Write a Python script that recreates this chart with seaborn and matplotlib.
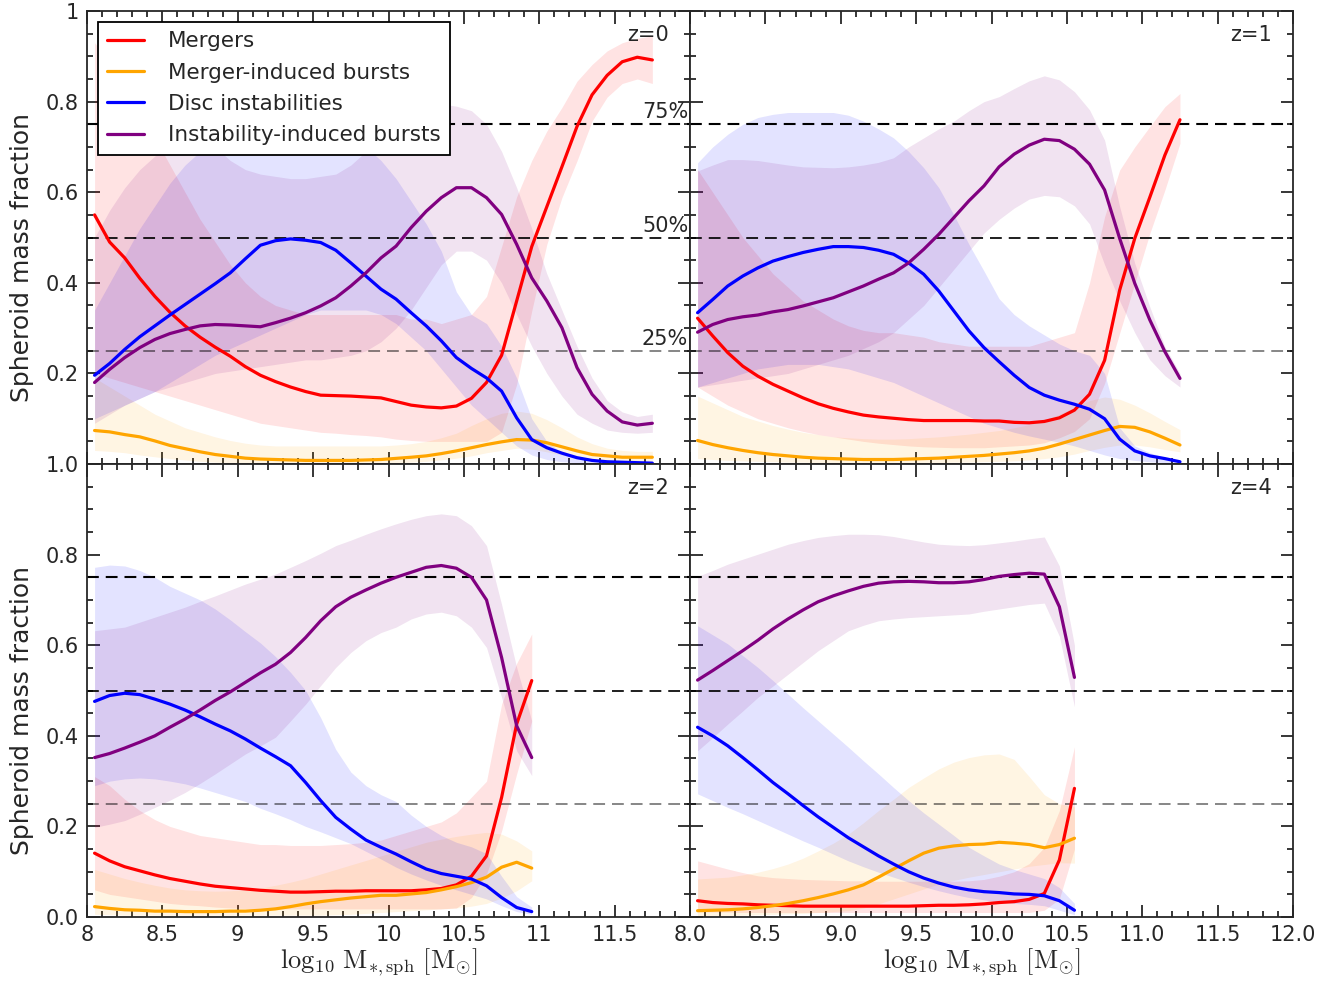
import matplotlib
matplotlib.use('Agg')
import matplotlib.pyplot as plt
import pandas as pd
import seaborn as sns
from matplotlib.ticker import MultipleLocator

# mass bin centres (log10 M*,sph)
MASS_BINS = [8.05, 8.15, 8.25, 8.35, 8.45, 8.55, 8.65, 8.75, 8.85, 8.95,
             9.05, 9.15, 9.25, 9.35, 9.45, 9.55, 9.65, 9.75, 9.85, 9.95,
             10.05, 10.15, 10.25, 10.35, 10.45, 10.55, 10.65, 10.75, 10.85, 10.95,
             11.05, 11.15, 11.25, 11.35, 11.45, 11.55, 11.65, 11.75]

SERIES = ['Mergers', 'Merger-induced bursts', 'Disc instabilities', 'Instability-induced bursts']
COLORS = ['red', 'orange', 'blue', 'purple']
REDSHIFTS = ['z=0', 'z=1', 'z=2', 'z=4']

# ---- z=0 ----
MERGERS_Z0 = [0.55, 0.49, 0.455, 0.41, 0.37, 0.335, 0.305, 0.28, 0.258, 0.238,
              0.215, 0.196, 0.182, 0.17, 0.16, 0.152, 0.151, 0.15, 0.148, 0.146,
              0.138, 0.13, 0.126, 0.124, 0.128, 0.145, 0.18, 0.24, 0.36, 0.48,
              0.568, 0.656, 0.745, 0.815, 0.858, 0.888, 0.898, 0.892]
MERGERS_Z0_HI = [0.93, 0.89, 0.84, 0.78, 0.72, 0.66, 0.60, 0.54, 0.49, 0.44,
                 0.40, 0.37, 0.35, 0.34, 0.33, 0.33, 0.33, 0.33, 0.33, 0.33,
                 0.33, 0.32, 0.32, 0.31, 0.32, 0.33, 0.37, 0.48, 0.59, 0.67,
                 0.735, 0.787, 0.845, 0.882, 0.912, 0.93, 0.94, 0.945]
MERGERS_Z0_LO = [0.2, 0.19, 0.18, 0.17, 0.16, 0.15, 0.14, 0.13, 0.12, 0.11,
                 0.1, 0.09, 0.085, 0.08, 0.075, 0.07, 0.068, 0.065, 0.063, 0.06,
                 0.055, 0.052, 0.05, 0.05, 0.05, 0.05, 0.05, 0.07, 0.176, 0.338,
                 0.485, 0.588, 0.669, 0.757, 0.81, 0.84, 0.85, 0.84]
MBURSTS_Z0 = [0.074, 0.071, 0.065, 0.06, 0.051, 0.041, 0.034, 0.027, 0.021, 0.017,
              0.013, 0.011, 0.01, 0.009, 0.008, 0.008, 0.008, 0.008, 0.009, 0.01,
              0.0125, 0.015, 0.018, 0.023, 0.029, 0.036, 0.043, 0.049, 0.054, 0.053,
              0.047, 0.038, 0.029, 0.021, 0.018, 0.015, 0.015, 0.015]
MBURSTS_Z0_HI = [0.19, 0.17, 0.15, 0.13, 0.11, 0.095, 0.08, 0.07, 0.06, 0.052,
                 0.046, 0.042, 0.04, 0.04, 0.04, 0.04, 0.04, 0.04, 0.04, 0.04,
                 0.042, 0.045, 0.05, 0.058, 0.068, 0.085, 0.1, 0.112, 0.117, 0.112,
                 0.098, 0.08, 0.06, 0.045, 0.035, 0.03, 0.028, 0.028]
MBURSTS_Z0_LO = [0.03, 0.028, 0.025, 0.02, 0.016, 0.012, 0.009, 0.006, 0.004, 0.003,
                 0.002, 0.002, 0.002, 0.002, 0.002, 0.002, 0.002, 0.002, 0.002, 0.002,
                 0.003, 0.004, 0.006, 0.009, 0.013, 0.018, 0.025, 0.03, 0.035, 0.033,
                 0.027, 0.02, 0.013, 0.009, 0.007, 0.006, 0.006, 0.006]
DISC_Z0 = [0.196, 0.222, 0.253, 0.281, 0.305, 0.329, 0.352, 0.375, 0.398, 0.422,
           0.453, 0.483, 0.493, 0.497, 0.494, 0.489, 0.472, 0.444, 0.415, 0.386,
           0.364, 0.334, 0.305, 0.272, 0.235, 0.211, 0.19, 0.161, 0.102, 0.054,
           0.036, 0.024, 0.014, 0.008, 0.005, 0.004, 0.003, 0.002]
DISC_Z0_HI = [0.34, 0.40, 0.46, 0.52, 0.57, 0.62, 0.66, 0.69, 0.71, 0.72,
              0.73, 0.73, 0.73, 0.73, 0.73, 0.73, 0.72, 0.71, 0.70, 0.67,
              0.63, 0.58, 0.53, 0.47, 0.38, 0.33, 0.31, 0.26, 0.19, 0.10,
              0.05, 0.025, 0.015, 0.01, 0.008, 0.006, 0.005, 0.004]
DISC_Z0_LO = [0.10, 0.115, 0.13, 0.145, 0.16, 0.18, 0.2, 0.22, 0.24, 0.255,
              0.27, 0.285, 0.3, 0.315, 0.33, 0.34, 0.34, 0.34, 0.34, 0.33,
              0.31, 0.28, 0.25, 0.21, 0.17, 0.13, 0.10, 0.07, 0.04, 0.02,
              0.01, 0.005, 0.003, 0.002, 0.001, 0.001, 0.001, 0.001]
IBURSTS_Z0 = [0.18, 0.209, 0.235, 0.257, 0.275, 0.288, 0.297, 0.305, 0.308, 0.307,
              0.305, 0.303, 0.312, 0.322, 0.334, 0.349, 0.367, 0.393, 0.422, 0.455,
              0.481, 0.522, 0.558, 0.588, 0.61, 0.61, 0.588, 0.551, 0.485, 0.411,
              0.36, 0.301, 0.213, 0.154, 0.117, 0.093, 0.086, 0.09]
IBURSTS_Z0_HI = [0.5, 0.56, 0.61, 0.65, 0.68, 0.70, 0.71, 0.71, 0.70, 0.67,
                 0.65, 0.64, 0.635, 0.63, 0.63, 0.635, 0.64, 0.66, 0.69, 0.73,
                 0.77, 0.785, 0.79, 0.795, 0.79, 0.78, 0.75, 0.69, 0.61, 0.52,
                 0.42, 0.34, 0.26, 0.19, 0.14, 0.115, 0.105, 0.11]
IBURSTS_Z0_LO = [0.09, 0.11, 0.13, 0.145, 0.16, 0.17, 0.18, 0.19, 0.2, 0.205,
                 0.21, 0.215, 0.22, 0.225, 0.23, 0.23, 0.235, 0.24, 0.25, 0.27,
                 0.3, 0.34, 0.39, 0.44, 0.47, 0.47, 0.45, 0.40, 0.33, 0.26,
                 0.2, 0.15, 0.11, 0.09, 0.075, 0.07, 0.068, 0.07]

# ---- z=1 ----
MERGERS_Z1 = [0.322, 0.283, 0.246, 0.216, 0.194, 0.176, 0.161, 0.146, 0.133, 0.123,
              0.115, 0.108, 0.104, 0.101, 0.098, 0.096, 0.096, 0.096, 0.096, 0.095,
              0.095, 0.092, 0.091, 0.094, 0.102, 0.119, 0.154, 0.229, 0.384, 0.498,
              0.589, 0.682, 0.76]
MERGERS_Z1_HI = [0.65, 0.60, 0.55, 0.50, 0.46, 0.42, 0.39, 0.36, 0.34, 0.32,
                 0.305, 0.295, 0.29, 0.29, 0.285, 0.28, 0.27, 0.265, 0.26, 0.26,
                 0.26, 0.26, 0.26, 0.27, 0.28, 0.29, 0.40, 0.546, 0.649, 0.70,
                 0.745, 0.789, 0.818]
MERGERS_Z1_LO = [0.17, 0.15, 0.13, 0.115, 0.1, 0.09, 0.08, 0.072, 0.065, 0.06,
                 0.055, 0.05, 0.046, 0.043, 0.04, 0.038, 0.037, 0.036, 0.036, 0.036,
                 0.038, 0.04, 0.042, 0.047, 0.058, 0.072, 0.1, 0.178, 0.289, 0.399,
                 0.509, 0.605, 0.708]
MBURSTS_Z1 = [0.052, 0.043, 0.036, 0.03, 0.025, 0.021, 0.018, 0.015, 0.013, 0.012,
              0.011, 0.01, 0.01, 0.01, 0.011, 0.012, 0.013, 0.015, 0.017, 0.019,
              0.022, 0.025, 0.029, 0.035, 0.044, 0.054, 0.064, 0.074, 0.083, 0.081,
              0.071, 0.057, 0.042]
MBURSTS_Z1_HI = [0.15, 0.135, 0.12, 0.105, 0.095, 0.085, 0.077, 0.07, 0.065, 0.06,
                 0.058, 0.056, 0.055, 0.055, 0.056, 0.058, 0.06, 0.063, 0.066, 0.07,
                 0.074, 0.08, 0.087, 0.097, 0.11, 0.125, 0.14, 0.148, 0.143, 0.13,
                 0.113, 0.094, 0.076]
MBURSTS_Z1_LO = [0.012, 0.01, 0.008, 0.007, 0.006, 0.005, 0.004, 0.004, 0.003, 0.003,
                 0.003, 0.003, 0.003, 0.003, 0.003, 0.003, 0.003, 0.004, 0.004, 0.005,
                 0.006, 0.007, 0.009, 0.012, 0.016, 0.022, 0.03, 0.037, 0.042, 0.042,
                 0.038, 0.032, 0.027]
DISC_Z1 = [0.334, 0.363, 0.393, 0.415, 0.433, 0.448, 0.458, 0.467, 0.474, 0.48,
           0.48, 0.478, 0.472, 0.463, 0.444, 0.419, 0.382, 0.338, 0.294, 0.257,
           0.226, 0.196, 0.169, 0.152, 0.141, 0.132, 0.121, 0.1, 0.055, 0.029,
           0.018, 0.012, 0.005]
DISC_Z1_HI = [0.665, 0.70, 0.728, 0.75, 0.765, 0.772, 0.776, 0.776, 0.776, 0.776,
              0.77, 0.757, 0.74, 0.72, 0.69, 0.654, 0.61, 0.55, 0.485, 0.426,
              0.365, 0.33, 0.305, 0.285, 0.265, 0.25, 0.24, 0.2, 0.08, 0.04,
              0.025, 0.015, 0.008]
DISC_Z1_LO = [0.17, 0.18, 0.19, 0.2, 0.21, 0.215, 0.22, 0.22, 0.22, 0.215,
              0.21, 0.2, 0.19, 0.18, 0.165, 0.15, 0.135, 0.12, 0.105, 0.09,
              0.08, 0.07, 0.062, 0.055, 0.048, 0.04, 0.03, 0.02, 0.012, 0.008,
              0.005, 0.003, 0.002]
IBURSTS_Z1 = [0.291, 0.308, 0.319, 0.325, 0.329, 0.336, 0.341, 0.349, 0.358, 0.367,
              0.38, 0.393, 0.408, 0.422, 0.444, 0.474, 0.507, 0.544, 0.581, 0.614,
              0.656, 0.684, 0.704, 0.717, 0.714, 0.695, 0.662, 0.605, 0.498, 0.399,
              0.318, 0.248, 0.189]
IBURSTS_Z1_HI = [0.647, 0.66, 0.672, 0.672, 0.67, 0.665, 0.66, 0.656, 0.655, 0.654,
                 0.656, 0.66, 0.666, 0.676, 0.70, 0.72, 0.74, 0.757, 0.78, 0.80,
                 0.811, 0.829, 0.846, 0.857, 0.848, 0.822, 0.782, 0.715, 0.568, 0.443,
                 0.347, 0.259, 0.2]
IBURSTS_Z1_LO = [0.17, 0.175, 0.18, 0.185, 0.19, 0.195, 0.2, 0.21, 0.22, 0.23,
                 0.24, 0.255, 0.27, 0.29, 0.32, 0.35, 0.39, 0.43, 0.47, 0.51,
                 0.54, 0.565, 0.585, 0.593, 0.59, 0.57, 0.53, 0.44, 0.36, 0.29,
                 0.23, 0.195, 0.17]

# ---- z=2 ----
MERGERS_Z2 = [0.141, 0.124, 0.111, 0.102, 0.093, 0.085, 0.079, 0.073, 0.068, 0.065,
              0.062, 0.059, 0.057, 0.055, 0.055, 0.056, 0.057, 0.057, 0.058, 0.058,
              0.058, 0.058, 0.06, 0.063, 0.071, 0.09, 0.135, 0.264, 0.426, 0.522]
MERGERS_Z2_HI = [0.31, 0.29, 0.26, 0.235, 0.215, 0.2, 0.19, 0.18, 0.175, 0.17,
                 0.165, 0.16, 0.16, 0.158, 0.158, 0.158, 0.16, 0.162, 0.165, 0.17,
                 0.18, 0.19, 0.2, 0.21, 0.23, 0.265, 0.3, 0.47, 0.56, 0.625]
MERGERS_Z2_LO = [0.06, 0.05, 0.045, 0.04, 0.035, 0.03, 0.027, 0.025, 0.022, 0.02,
                 0.019, 0.018, 0.018, 0.018, 0.018, 0.018, 0.018, 0.018, 0.018, 0.018,
                 0.018, 0.018, 0.018, 0.018, 0.02, 0.043, 0.095, 0.19, 0.316, 0.433]
MBURSTS_Z2 = [0.023, 0.019, 0.016, 0.015, 0.013, 0.013, 0.012, 0.012, 0.012, 0.013,
              0.013, 0.015, 0.018, 0.023, 0.029, 0.034, 0.038, 0.042, 0.045, 0.048,
              0.048, 0.051, 0.054, 0.06, 0.067, 0.076, 0.088, 0.11, 0.121, 0.108]
MBURSTS_Z2_HI = [0.105, 0.095, 0.085, 0.077, 0.07, 0.064, 0.06, 0.058, 0.057, 0.058,
                 0.06, 0.064, 0.07, 0.077, 0.085, 0.095, 0.105, 0.115, 0.125, 0.135,
                 0.145, 0.155, 0.165, 0.172, 0.178, 0.183, 0.187, 0.183, 0.168, 0.146]
MBURSTS_Z2_LO = [0.006, 0.005, 0.004, 0.004, 0.004, 0.004, 0.004, 0.004, 0.004, 0.004,
                 0.004, 0.004, 0.004, 0.004, 0.004, 0.004, 0.005, 0.006, 0.008, 0.01,
                 0.012, 0.014, 0.016, 0.018, 0.02, 0.024, 0.03, 0.042, 0.058, 0.08]
DISC_Z2 = [0.476, 0.489, 0.494, 0.491, 0.481, 0.47, 0.457, 0.442, 0.426, 0.411,
           0.393, 0.373, 0.354, 0.334, 0.297, 0.257, 0.22, 0.194, 0.17, 0.154,
           0.139, 0.122, 0.106, 0.096, 0.09, 0.084, 0.069, 0.043, 0.021, 0.012]
DISC_Z2_HI = [0.772, 0.777, 0.775, 0.765, 0.75, 0.73, 0.715, 0.7, 0.68, 0.656,
              0.63, 0.605, 0.575, 0.54, 0.5, 0.44, 0.37, 0.32, 0.29, 0.27,
              0.255, 0.225, 0.2, 0.18, 0.165, 0.155, 0.14, 0.09, 0.045, 0.022]
DISC_Z2_LO = [0.29, 0.3, 0.305, 0.307, 0.305, 0.3, 0.294, 0.285, 0.275, 0.265,
              0.255, 0.24, 0.228, 0.215, 0.2, 0.188, 0.175, 0.162, 0.145, 0.128,
              0.11, 0.095, 0.082, 0.07, 0.06, 0.05, 0.04, 0.025, 0.012, 0.006]
IBURSTS_Z2 = [0.352, 0.361, 0.373, 0.386, 0.4, 0.419, 0.437, 0.457, 0.478, 0.497,
              0.518, 0.539, 0.558, 0.584, 0.617, 0.654, 0.685, 0.706, 0.722, 0.737,
              0.75, 0.761, 0.772, 0.776, 0.77, 0.75, 0.7, 0.573, 0.422, 0.352]
IBURSTS_Z2_HI = [0.632, 0.636, 0.64, 0.651, 0.662, 0.673, 0.684, 0.697, 0.709, 0.722,
                 0.735, 0.746, 0.757, 0.772, 0.787, 0.803, 0.82, 0.832, 0.845, 0.857,
                 0.868, 0.878, 0.886, 0.89, 0.886, 0.864, 0.82, 0.69, 0.551, 0.433]
IBURSTS_Z2_LO = [0.198, 0.205, 0.213, 0.227, 0.242, 0.258, 0.275, 0.295, 0.316, 0.338,
                 0.36, 0.378, 0.397, 0.433, 0.47, 0.511, 0.551, 0.584, 0.61, 0.628,
                 0.64, 0.658, 0.669, 0.673, 0.665, 0.64, 0.595, 0.485, 0.367, 0.312]

# ---- z=4 ----
MERGERS_Z4 = [0.036, 0.032, 0.03, 0.029, 0.027, 0.026, 0.025, 0.024, 0.024, 0.024,
              0.024, 0.024, 0.024, 0.024, 0.024, 0.025, 0.026, 0.026, 0.027, 0.029,
              0.032, 0.034, 0.039, 0.052, 0.126, 0.284]
MERGERS_Z4_HI = [0.124, 0.115, 0.106, 0.098, 0.091, 0.087, 0.085, 0.083, 0.082, 0.081,
                 0.08, 0.08, 0.079, 0.079, 0.079, 0.079, 0.079, 0.079, 0.08, 0.083,
                 0.09, 0.1, 0.118, 0.154, 0.235, 0.376]
MERGERS_Z4_LO = [0.012, 0.011, 0.011, 0.01, 0.01, 0.01, 0.01, 0.01, 0.01, 0.01,
                 0.01, 0.01, 0.01, 0.01, 0.01, 0.01, 0.01, 0.01, 0.01, 0.01,
                 0.01, 0.01, 0.01, 0.015, 0.04, 0.15]
MBURSTS_Z4 = [0.014, 0.015, 0.016, 0.018, 0.021, 0.025, 0.03, 0.036, 0.043, 0.051,
              0.06, 0.071, 0.088, 0.106, 0.124, 0.141, 0.152, 0.157, 0.16, 0.161,
              0.165, 0.163, 0.16, 0.153, 0.16, 0.174]
MBURSTS_Z4_HI = [0.084, 0.086, 0.088, 0.093, 0.099, 0.107, 0.117, 0.13, 0.146, 0.163,
                 0.183, 0.208, 0.235, 0.26, 0.286, 0.307, 0.327, 0.342, 0.352, 0.358,
                 0.36, 0.348, 0.31, 0.27, 0.25, 0.243]
MBURSTS_Z4_LO = [0.003, 0.003, 0.003, 0.004, 0.005, 0.006, 0.007, 0.008, 0.01, 0.012,
                 0.014, 0.02, 0.029, 0.04, 0.051, 0.062, 0.073, 0.081, 0.088, 0.094,
                 0.1, 0.106, 0.112, 0.116, 0.12, 0.119]
DISC_Z4 = [0.419, 0.4, 0.378, 0.352, 0.325, 0.297, 0.272, 0.246, 0.221, 0.198,
           0.175, 0.155, 0.135, 0.117, 0.1, 0.086, 0.075, 0.066, 0.06, 0.056,
           0.054, 0.051, 0.05, 0.047, 0.036, 0.015]
DISC_Z4_HI = [0.643, 0.623, 0.603, 0.577, 0.551, 0.522, 0.492, 0.462, 0.433, 0.404,
              0.375, 0.345, 0.316, 0.286, 0.257, 0.23, 0.205, 0.18, 0.154, 0.135,
              0.117, 0.105, 0.095, 0.085, 0.065, 0.03]
DISC_Z4_LO = [0.272, 0.257, 0.242, 0.228, 0.213, 0.198, 0.183, 0.168, 0.154, 0.139,
              0.124, 0.111, 0.099, 0.088, 0.077, 0.067, 0.058, 0.05, 0.043, 0.038,
              0.033, 0.03, 0.028, 0.025, 0.015, 0.005]
IBURSTS_Z4 = [0.523, 0.544, 0.566, 0.588, 0.611, 0.636, 0.658, 0.678, 0.696, 0.709,
              0.72, 0.73, 0.737, 0.74, 0.741, 0.74, 0.738, 0.738, 0.74, 0.745,
              0.752, 0.756, 0.759, 0.757, 0.685, 0.529]
IBURSTS_Z4_HI = [0.752, 0.765, 0.779, 0.79, 0.801, 0.812, 0.823, 0.831, 0.838, 0.842,
                 0.845, 0.845, 0.844, 0.84, 0.834, 0.828, 0.823, 0.821, 0.82, 0.822,
                 0.826, 0.83, 0.835, 0.839, 0.775, 0.6]
IBURSTS_Z4_LO = [0.367, 0.396, 0.426, 0.455, 0.485, 0.51, 0.536, 0.562, 0.588, 0.61,
                 0.632, 0.644, 0.654, 0.658, 0.661, 0.663, 0.665, 0.667, 0.669, 0.675,
                 0.68, 0.685, 0.69, 0.693, 0.62, 0.464]

PANELS = [
    [(MERGERS_Z0, MERGERS_Z0_LO, MERGERS_Z0_HI), (MBURSTS_Z0, MBURSTS_Z0_LO, MBURSTS_Z0_HI),
     (DISC_Z0, DISC_Z0_LO, DISC_Z0_HI), (IBURSTS_Z0, IBURSTS_Z0_LO, IBURSTS_Z0_HI)],
    [(MERGERS_Z1, MERGERS_Z1_LO, MERGERS_Z1_HI), (MBURSTS_Z1, MBURSTS_Z1_LO, MBURSTS_Z1_HI),
     (DISC_Z1, DISC_Z1_LO, DISC_Z1_HI), (IBURSTS_Z1, IBURSTS_Z1_LO, IBURSTS_Z1_HI)],
    [(MERGERS_Z2, MERGERS_Z2_LO, MERGERS_Z2_HI), (MBURSTS_Z2, MBURSTS_Z2_LO, MBURSTS_Z2_HI),
     (DISC_Z2, DISC_Z2_LO, DISC_Z2_HI), (IBURSTS_Z2, IBURSTS_Z2_LO, IBURSTS_Z2_HI)],
    [(MERGERS_Z4, MERGERS_Z4_LO, MERGERS_Z4_HI), (MBURSTS_Z4, MBURSTS_Z4_LO, MBURSTS_Z4_HI),
     (DISC_Z4, DISC_Z4_LO, DISC_Z4_HI), (IBURSTS_Z4, IBURSTS_Z4_LO, IBURSTS_Z4_HI)],
]

X_TICKS = [8.0, 8.5, 9.0, 9.5, 10.0, 10.5, 11.0, 11.5, 12.0]
X_LABELS_LEFT = ['8', '8.5', '9', '9.5', '10', '10.5', '11', '11.5', '']
X_LABELS_RIGHT = ['8.0', '8.5', '9.0', '9.5', '10.0', '10.5', '11.0', '11.5', '12.0']
Y_TICKS = [0.0, 0.2, 0.4, 0.6, 0.8, 1.0]
Y_LABELS_TOP = ['', '0.2', '0.4', '0.6', '0.8', '1']
Y_LABELS_BOTTOM = ['0.0', '0.2', '0.4', '0.6', '0.8', '1.0']
QUARTILES = [0.75, 0.5, 0.25]
QUARTILE_TEXT = ['75%', '50%', '25%']

sns.set_style('ticks')
plt.rcParams['font.family'] = ['DejaVu Sans']
plt.rcParams['mathtext.fontset'] = 'cm'
plt.rcParams['axes.linewidth'] = 1.3
plt.rcParams['lines.scale_dashes'] = False

FS = 15
palette = dict(zip(SERIES, COLORS))


def draw_panel(ax, panel):
    """
    Shaded percentile ranges plus median lines for one redshift
    """
    rows = []
    for name, color, (med, lo, hi) in zip(SERIES, COLORS, panel):
        x = MASS_BINS[:len(med)]
        ax.fill_between(x, lo, hi, color=color, alpha=0.11, lw=0, zorder=1)
        rows += [{'mass': m, 'frac': v, 'series': name} for m, v in zip(x, med)]
    df = pd.DataFrame(rows)
    sns.lineplot(data=df, x='mass', y='frac', hue='series', hue_order=SERIES,
                 palette=palette, estimator=None, lw=2.3, legend=False, ax=ax, zorder=3)
    handles = list(ax.lines[:4])
    styles = [(1.5, 1.0), (1.3, 0.95), (1.1, 0.6)]
    for q, (lw, a) in zip(QUARTILES, styles):
        ax.axhline(q, color='black', lw=lw, alpha=a, ls=(0, (8.5, 5)), zorder=2)
    return handles


fig = plt.figure(figsize=(13.43, 9.85), dpi=100)
gs = fig.add_gridspec(2, 2, left=0.0648, right=0.9628, bottom=0.069, top=0.9888,
                      wspace=0, hspace=0)
axes = [fig.add_subplot(gs[i // 2, i % 2]) for i in range(4)]

for i, (ax, panel, zlab) in enumerate(zip(axes, PANELS, REDSHIFTS)):
    handles = draw_panel(ax, panel)
    ax.set_xlim(8, 12)
    ax.set_ylim(0, 1)
    ax.set_xticks(X_TICKS)
    ax.set_yticks(Y_TICKS)
    ax.xaxis.set_minor_locator(MultipleLocator(0.1))
    ax.yaxis.set_minor_locator(MultipleLocator(0.05))
    ax.tick_params(which='both', direction='in', top=True, right=True,
                   labelsize=FS, width=1.1, color='black')
    ax.tick_params(which='major', length=9, pad=6)
    ax.tick_params(which='minor', length=4.5)
    ax.set_xlabel('')
    ax.set_ylabel('')
    ax.text(0.965, 0.947, zlab, transform=ax.transAxes, ha='right', va='center', fontsize=FS)

    row, col = divmod(i, 2)
    if row == 0:
        ax.set_xticklabels([])
    else:
        ax.set_xticklabels(X_LABELS_LEFT if col == 0 else X_LABELS_RIGHT)
        ax.set_xlabel(r'$\log_{10}\,\mathrm{M}_{*,\mathrm{sph}}\ [\mathrm{M}_{\odot}]$',
                      fontsize=19, labelpad=1)
        ax.xaxis.label.set_x(0.484)
    if col == 0:
        ax.set_yticklabels(Y_LABELS_TOP if row == 0 else Y_LABELS_BOTTOM)
        ax.set_ylabel('Spheroid mass fraction', fontsize=18, labelpad=8)
        ax.yaxis.label.set_y(0.455)
    else:
        ax.set_yticklabels([])

    if i == 0:
        leg = ax.legend(handles, SERIES, loc='upper left', fontsize=15.5, fancybox=False,
                        framealpha=1, edgecolor='black', handlelength=1.7,
                        handletextpad=1.1, labelspacing=0.52, borderpad=0.45)
        leg.get_frame().set_linewidth(1.3)
        leg.set_zorder(5)
        for q, t in zip(QUARTILES, QUARTILE_TEXT):
            ax.text(0.997, q + 0.004, t, transform=ax.get_yaxis_transform(),
                    ha='right', va='bottom', fontsize=FS)

fig.savefig('out.png', dpi=100)
